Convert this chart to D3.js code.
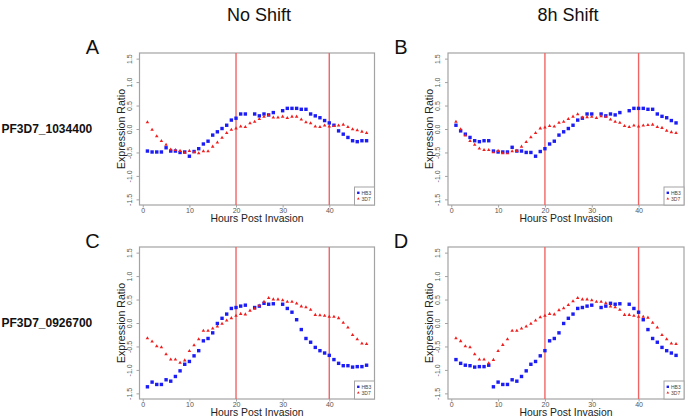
<!DOCTYPE html>
<html>
<head>
<meta charset="utf-8">
<script src="https://cdn.jsdelivr.net/npm/d3@7"></script>
<style>
	body { margin: 0; background: #fff; }
	svg { display: block; font-family: "Liberation Sans", Arial, sans-serif; }
</style>
</head>
<body>
<script>
// hours 1..48, null = no value in the source
const hours = [1,2,3,4,5,6,7,8,9,10,11,12,13,14,15,16,17,18,19,20,21,22,23,24,25,26,27,28,29,30,31,32,33,34,35,36,37,38,39,40,41,42,43,44,45,46,47,48];
const xTicks = [0, 10, 20, 30, 40];
const yTicks = [-1.5, -1.0, -0.5, 0.0, 0.5, 1.0, 1.5];
const yTickLabels = ["-1.5", "-1.0", "-0.5", "0.0", "0.5", "1.0", "1.5"];
const markLines = [20, 40];
const seriesNames = ["HB3", "3D7"];
const colTitles = ["No Shift", "8h Shift"];
const geneNames = ["PF3D7_1034400", "PF3D7_0926700"];
const panelLetters = ["A", "B", "C", "D"];

const hb3A = [-0.47,-0.49,-0.49,-0.49,-0.40,-0.47,-0.47,-0.50,-0.49,-0.58,
	-0.48,-0.42,-0.32,-0.26,-0.13,-0.06,0.01,0.08,0.19,0.23,
	0.32,0.32,null,0.32,0.28,0.32,0.30,0.35,null,0.39,
	0.44,0.44,0.44,0.42,0.42,0.32,0.28,0.24,0.18,0.13,
	0.08,-0.04,-0.11,-0.18,-0.25,-0.27,-0.25,-0.25];
const d7A = [0.15,-0.01,-0.15,-0.25,-0.33,-0.43,-0.44,-0.46,-0.50,-0.46,
	-0.49,-0.51,-0.47,-0.47,-0.37,-0.28,-0.18,-0.08,-0.01,0.02,
	0.06,0.05,0.13,0.16,0.22,0.27,0.30,0.25,0.25,0.27,
	0.24,0.27,0.27,0.21,0.15,0.13,0.06,0.05,0.08,0.06,
	0.07,0.08,0.10,0.05,0.00,-0.02,-0.05,-0.08];

const hb3B = [0.08,-0.04,-0.11,-0.18,-0.25,-0.27,-0.25,-0.25,
	-0.47,-0.49,-0.49,-0.49,-0.39,-0.47,-0.47,-0.50,-0.50,-0.58,-0.48,-0.42,
	-0.32,-0.26,-0.13,-0.06,0.01,0.08,0.19,0.23,0.32,0.32,
	null,0.32,0.28,0.32,0.30,0.35,null,0.39,0.44,0.44,
	0.44,0.42,0.42,0.32,0.27,0.24,0.18,0.13];
const d7B = [0.16,0.00,-0.13,-0.25,-0.33,-0.41,-0.44,-0.44,-0.49,-0.46,
	-0.51,-0.51,-0.47,-0.46,-0.37,-0.27,-0.17,-0.08,0.02,0.04,
	0.07,0.06,0.14,0.16,0.22,0.27,0.32,0.25,0.26,0.27,
	0.24,0.28,0.27,0.21,0.16,0.14,0.07,0.05,0.08,0.06,
	0.08,0.09,0.10,0.05,0.03,-0.03,-0.06,-0.08];

const hb3C = [-1.36,-1.26,-1.31,-1.31,-1.21,-1.24,-1.14,-1.02,-0.88,-0.82,
	-0.70,-0.59,-0.38,-0.33,-0.21,-0.01,0.10,0.19,0.31,0.33,
	0.36,0.38,null,0.33,0.36,0.42,0.40,0.41,null,0.40,
	0.31,0.23,0.07,-0.14,-0.33,-0.41,-0.52,-0.59,-0.64,-0.69,
	-0.78,-0.86,-0.91,-0.91,-0.94,-0.93,-0.93,-0.90];
const d7C = [-0.32,-0.39,-0.49,-0.51,-0.66,-0.77,-0.77,-0.84,-0.79,-0.59,
	-0.47,-0.34,-0.16,-0.16,-0.11,-0.07,-0.01,0.06,0.11,0.16,
	0.20,0.19,0.27,0.31,0.38,0.46,0.54,0.51,0.51,0.49,
	0.46,0.46,0.42,0.36,0.34,0.29,0.18,0.17,0.16,0.14,
	0.14,0.11,0.01,-0.09,-0.25,-0.34,-0.43,-0.44];

const hb3D = [-0.78,-0.86,-0.90,-0.91,-0.94,-0.93,-0.93,-0.90,
	-1.36,-1.26,-1.31,-1.31,-1.21,-1.24,-1.14,-1.02,-0.88,-0.82,-0.70,-0.59,
	-0.38,-0.33,-0.21,-0.01,0.10,0.19,0.31,0.33,0.36,0.38,
	null,0.33,0.36,0.42,0.40,0.41,null,0.40,0.31,0.23,
	0.07,-0.14,-0.33,-0.41,-0.52,-0.59,-0.64,-0.69];
const d7D = [-0.32,-0.38,-0.49,-0.51,-0.66,-0.77,-0.77,-0.85,-0.78,-0.59,
	-0.46,-0.34,-0.16,-0.16,-0.11,-0.07,-0.01,0.06,0.13,0.16,
	0.20,0.19,0.28,0.32,0.39,0.47,0.54,0.51,0.51,0.49,
	0.46,0.46,0.43,0.36,0.34,0.29,0.18,0.18,0.16,0.14,
	0.14,0.12,0.01,-0.09,-0.25,-0.34,-0.43,-0.44];

const BLUE = "#1c1cf5", RED = "#f21d1d", GREY = "#a3a3a3", VLINE = "#f26464";

const svg = d3.select("body").append("svg")
	.attr("width", 685)
	.attr("height", 418);

class Panel{
	constructor(box, letter, hb3, d7){
		this.box = box;
		let g = svg.append("g");
		this.g = g;
		this.x = d3.scaleLinear().domain([-0.7, 49.7]).range([box.left, box.left + box.width]);
		this.y = d3.scaleLinear().domain([-1.62, 1.62]).range([box.top + box.height, box.top]);

		this.drawAxes();
		this.drawMarks();
		this.drawPoints(hb3, d7);
		this.drawLegend();
		this.drawLabels(letter);
	}
	drawAxes(){
		let b = this.box;
		let xa = this.g.append("g")
			.attr("transform", `translate(0,${b.top + b.height})`)
			.call(d3.axisBottom(this.x).tickValues(xTicks).tickSize(2.5).tickPadding(0.5).tickFormat(d3.format("d")));
		let ya = this.g.append("g")
			.attr("transform", `translate(${b.left},0)`)
			.call(d3.axisLeft(this.y).tickValues(yTicks).tickSize(3).tickFormat((d, i) => yTickLabels[i]));
		[xa, ya].forEach(a => {
			a.select(".domain").remove();
			a.selectAll("line").attr("stroke", GREY);
			a.selectAll("text").attr("fill", "#555").style("font-size", "7px");
		});
		ya.selectAll("text")
			.attr("x", null).attr("dy", null)
			.attr("text-anchor", "middle")
			.attr("transform", "translate(-8,0) rotate(-90)");

		this.g.append("rect")
			.attr("x", b.left).attr("y", b.top)
			.attr("width", b.width).attr("height", b.height)
			.attr("fill", "none")
			.attr("stroke", GREY)
			.attr("stroke-width", 1.2);
	}
	drawMarks(){
		let b = this.box;
		this.g.selectAll(".vline").data(markLines).join("line")
			.attr("class", "vline")
			.attr("x1", d => this.x(d)).attr("x2", d => this.x(d))
			.attr("y1", b.top).attr("y2", b.top + b.height)
			.attr("stroke", VLINE)
			.attr("stroke-width", 1.4);
	}
	drawPoints(hb3, d7){
		let blue = hours.map((h, i) => ({h, v: hb3[i]})).filter(d => d.v != null);
		let red = hours.map((h, i) => ({h, v: d7[i]})).filter(d => d.v != null);
		let s = 3.4;
		this.g.selectAll(".hb3").data(blue).join("rect")
			.attr("class", "hb3")
			.attr("x", d => this.x(d.h) - s / 2)
			.attr("y", d => this.y(d.v) - s / 2)
			.attr("width", s).attr("height", s)
			.attr("fill", BLUE);
		let tri = d3.symbol(d3.symbolTriangle2, 9);
		this.g.selectAll(".d7").data(red).join("path")
			.attr("class", "d7")
			.attr("d", tri)
			.attr("transform", d => `translate(${this.x(d.h)},${this.y(d.v) + 0.3})`)
			.attr("fill", RED);
	}
	drawLegend(){
		let b = this.box;
		let lw = 20, lh = 18;
		let lx = b.left + b.width - lw, ly = b.top + b.height - lh;
		let lg = this.g.append("g");
		lg.append("rect")
			.attr("x", lx).attr("y", ly)
			.attr("width", lw).attr("height", lh)
			.attr("fill", "#fff")
			.attr("stroke", GREY)
			.attr("stroke-width", 1);
		lg.append("rect")
			.attr("x", lx + 2.6).attr("y", ly + 4.6)
			.attr("width", 2.4).attr("height", 2.4)
			.attr("fill", BLUE);
		lg.append("path")
			.attr("d", d3.symbol(d3.symbolTriangle2, 5)())
			.attr("transform", `translate(${lx + 3.8},${ly + 11.8})`)
			.attr("fill", RED);
		lg.selectAll("text").data(seriesNames).join("text")
			.attr("x", lx + 7)
			.attr("y", (d, i) => ly + 7.5 + i * 6)
			.attr("fill", "#444")
			.style("font-size", "5px")
			.text(d => d);
	}
	drawLabels(letter){
		let b = this.box;
		let cx = b.left + b.width / 2;
		this.g.append("text")
			.attr("x", cx)
			.attr("y", b.top + b.height + 16.5)
			.attr("text-anchor", "middle")
			.attr("fill", "#222")
			.style("font-size", "10.4px")
			.text("Hours Post Invasion");
		this.g.append("text")
			.attr("transform", `translate(${b.left - 15},${b.top + b.height / 2}) rotate(-90)`)
			.attr("text-anchor", "middle")
			.attr("fill", "#222")
			.style("font-size", "10.6px")
			.text("Expression Ratio");
		this.g.append("text")
			.attr("x", b.left - 47)
			.attr("y", b.top + 1)
			.attr("text-anchor", "middle")
			.attr("fill", "#111")
			.style("font-size", "20px")
			.text(letter);
	}
}

let boxes = [
	{left: 139.5, top: 53, width: 235, height: 152},
	{left: 448, top: 53, width: 236, height: 152},
	{left: 139.5, top: 247, width: 235, height: 152},
	{left: 448, top: 247, width: 236, height: 152}
];
let sets = [[hb3A, d7A], [hb3B, d7B], [hb3C, d7C], [hb3D, d7D]];
boxes.forEach((b, i) => new Panel(b, panelLetters[i], sets[i][0], sets[i][1]));

// column titles and row labels
svg.selectAll(".coltitle").data(colTitles).join("text")
	.attr("class", "coltitle")
	.attr("x", (d, i) => boxes[i].left + boxes[i].width / 2 + 2)
	.attr("y", 21)
	.attr("text-anchor", "middle")
	.attr("fill", "#111")
	.style("font-size", "18px")
	.text(d => d);

svg.selectAll(".gene").data(geneNames).join("text")
	.attr("class", "gene")
	.attr("x", 1.5)
	.attr("y", (d, i) => boxes[i * 2].top + boxes[i * 2].height / 2 + 4)
	.attr("fill", "#111")
	.style("font-size", "12px")
	.style("font-weight", "bold")
	.text(d => d);
</script>
</body>
</html>
